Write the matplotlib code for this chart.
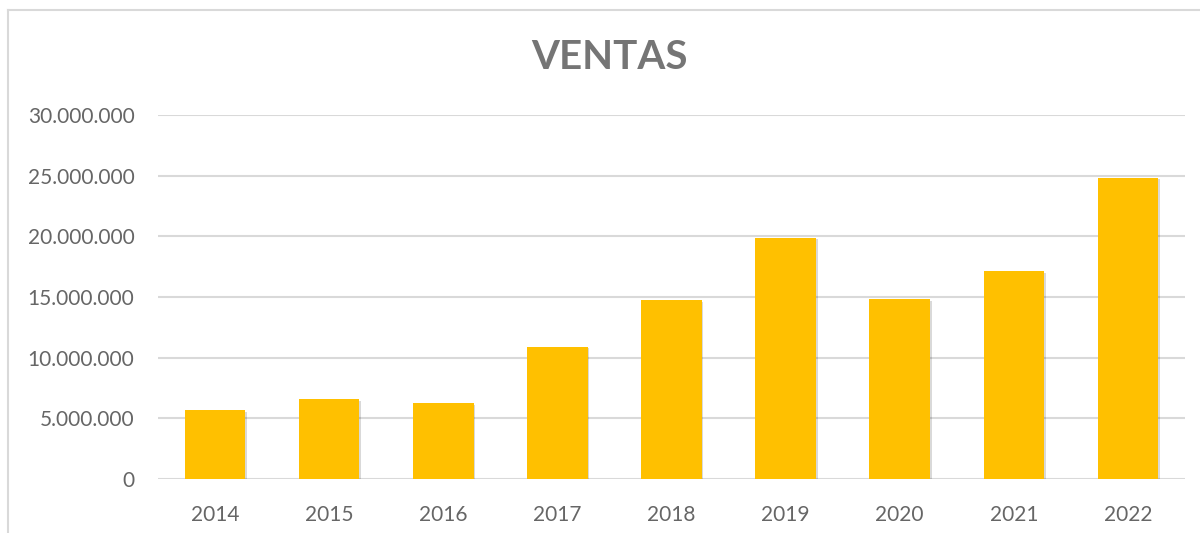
import matplotlib
matplotlib.use("Agg")
import matplotlib.pyplot as plt
from matplotlib import patheffects
from matplotlib.ticker import FuncFormatter, MultipleLocator

plt.rcParams["font.family"] = ["Lato", "DejaVu Sans"]

# Data
years = ["2014", "2015", "2016", "2017", "2018", "2019", "2020", "2021", "2022"]
ventas = [5700000, 6600000, 6250000, 10900000, 14750000, 19900000, 14800000, 17150000, 24850000]

fig = plt.figure(figsize=(12, 5.33), dpi=100)
ax = fig.add_axes([0.1317, 0.1013, 0.8558, 0.6829])

# Chart border (left and top visible)
fig.add_artist(plt.Line2D([0.007, 0.007], [0, 0.981], color="#d9d9d9", lw=1.5))
fig.add_artist(plt.Line2D([0.007, 1.0], [0.981, 0.981], color="#d9d9d9", lw=1.5))

bars = ax.bar(years, ventas, width=0.53, color="#FFC000", zorder=3)
for b in bars:
    b.set_path_effects([
        patheffects.SimplePatchShadow(offset=(1.2, -1.2), shadow_rgbFace="#000000", alpha=0.15),
        patheffects.Normal(),
    ])

ax.set_ylim(0, 30000000)
ax.set_xlim(-0.5, len(years) - 0.5)
ax.yaxis.set_major_locator(MultipleLocator(5000000))
ax.yaxis.set_major_formatter(FuncFormatter(lambda v, p: f"{int(v):,}".replace(",", ".")))
ax.grid(axis="y", color="#d9d9d9", lw=1.5, zorder=0)

for s in ax.spines.values():
    s.set_visible(False)
ax.tick_params(axis="both", length=0, labelsize=15, colors="#666666")
ax.tick_params(axis="y", pad=17)
ax.tick_params(axis="x", pad=19)

fig.text(0.508, 0.893, "VENTAS", ha="center", va="center", fontsize=29,
         fontweight="bold", color="#757575")

fig.savefig("out.png", dpi=100, facecolor="white")
